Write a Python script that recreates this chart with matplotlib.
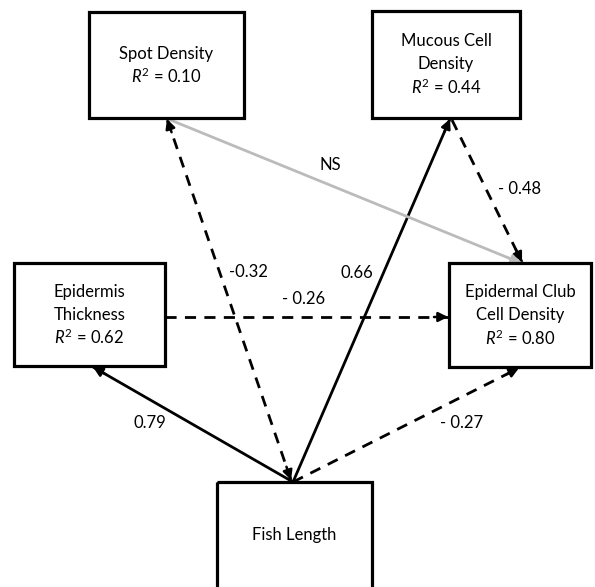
import matplotlib
matplotlib.use("Agg")
import matplotlib.pyplot as plt
from matplotlib.patches import Rectangle

plt.rcParams['font.family'] = ['Lato', 'DejaVu Sans']
plt.rcParams['mathtext.fontset'] = 'custom'
plt.rcParams['mathtext.rm'] = 'Lato'
plt.rcParams['mathtext.it'] = 'Lato:italic'

# node boxes: name -> (left, top, right, bottom) in pixel space
nodes = ["spot", "mucous", "epi", "club", "fish"]
node_lines = {
    "spot": ["Spot Density"],
    "mucous": ["Mucous Cell", "Density"],
    "epi": ["Epidermis", "Thickness"],
    "club": ["Epidermal Club", "Cell Density"],
    "fish": ["Fish Length"],
}
r_squared = {"spot": "0.10", "mucous": "0.44", "epi": "0.62", "club": "0.80", "fish": None}
boxes = {
    "spot": (89, 12, 244, 118),
    "mucous": (372, 11, 520, 118),
    "epi": (14, 263, 165, 366),
    "club": (449, 263, 591, 367),
    "fish": (217, 482, 372, 600),
}

# paths: start point, end point, coefficient label, style, label position
paths = [
    ((293, 482), (93, 367), "0.79", "solid", (150, 423), False),
    ((293, 482), (450, 119), "0.66", "solid", (357, 273), False),
    ((291, 480), (167, 119), "-0.32", "dashed", (248, 272), True),
    ((293, 482), (519, 368), "- 0.27", "dashed", (462, 423), False),
    ((165, 317), (448, 317), "- 0.26", "dashed", (304, 299), False),
    ((452, 120), (522, 262), "- 0.48", "dashed", (520, 189), False),
    ((168, 119), (521, 263), "NS", "grey", (330, 165), False),
]

fig = plt.figure(figsize=(5.95, 5.87), dpi=100)
ax = fig.add_axes([0, 0, 1, 1])
ax.set_xlim(0, 595)
ax.set_ylim(587, 0)
ax.axis("off")

fs = 12
for n in nodes:
    l, t, r, b = boxes[n]
    ax.add_patch(Rectangle((l, t), r - l, b - t, fill=False, lw=2.3, ec="black", zorder=3))
    lines = list(node_lines[n])
    cx = (l + r) / 2
    count = len(lines) + (1 if r_squared[n] else 0)
    step = 23
    if n == "fish":
        cy = 535
    else:
        cy = (t + min(b, 587)) / 2
    y0 = cy - step * (count - 1) / 2
    for i, s in enumerate(lines):
        ax.text(cx, y0 + i * step, s, ha="center", va="center", fontsize=fs, zorder=4)
    if r_squared[n]:
        ax.text(cx, y0 + len(lines) * step, r"$R^2$" + " = " + r_squared[n],
                ha="center", va="center", fontsize=fs, zorder=4)


def head(p_from, p_to, color):
    dx, dy = p_to[0] - p_from[0], p_to[1] - p_from[1]
    d = (dx ** 2 + dy ** 2) ** 0.5
    back = (p_to[0] - dx / d * 14, p_to[1] - dy / d * 14)
    ax.annotate("", xy=p_to, xytext=back,
                arrowprops=dict(arrowstyle="-|>", color=color, lw=1.8,
                                mutation_scale=14, shrinkA=0, shrinkB=0),
                zorder=2)


for start, end, label, style, lpos, both in paths:
    color = "#bbbbbb" if style == "grey" else "black"
    ls = (0, (4, 3)) if style == "dashed" else "-"
    ax.plot([start[0], end[0]], [start[1], end[1]], color=color, lw=2.0,
            linestyle=ls, solid_capstyle="butt", zorder=1)
    head(start, end, color)
    if both:
        head(end, start, color)
    ax.text(lpos[0], lpos[1], label, ha="center", va="center", fontsize=fs)

fig.savefig("out.png", dpi=100)
